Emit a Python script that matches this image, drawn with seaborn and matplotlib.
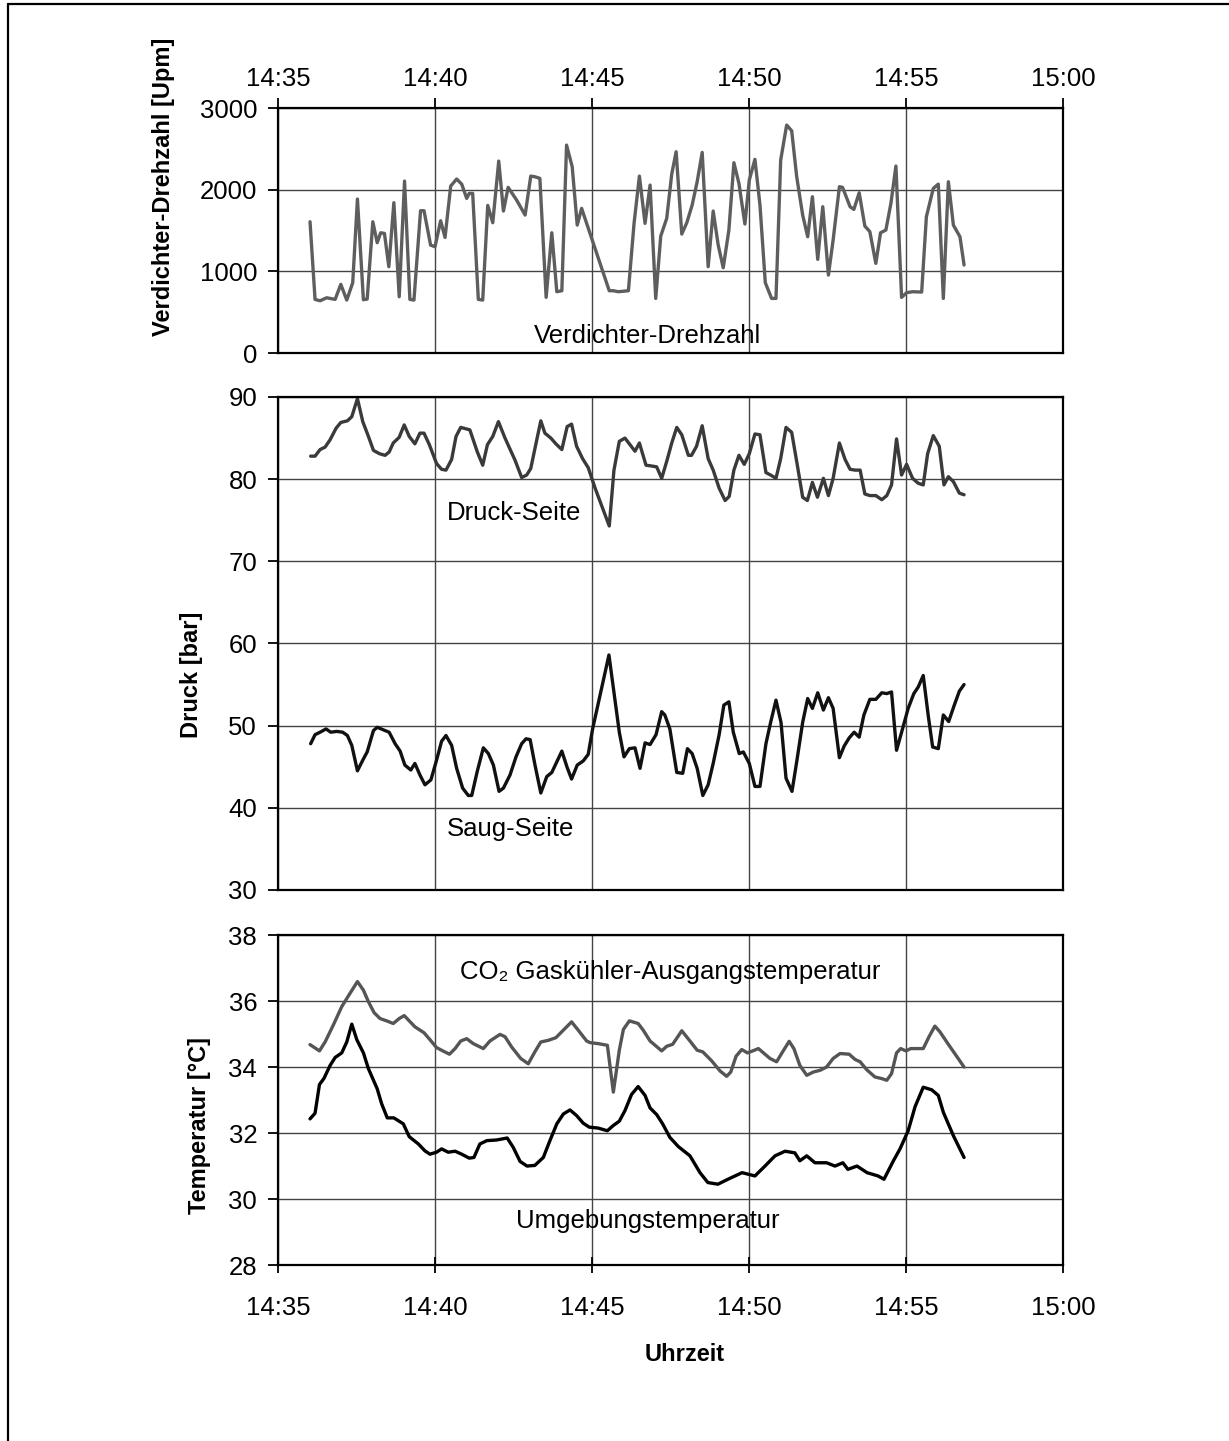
import numpy as np
import pandas as pd
import matplotlib
matplotlib.use('Agg')
import matplotlib.pyplot as plt
from matplotlib.ticker import FuncFormatter, MultipleLocator
from matplotlib.lines import Line2D
import seaborn as sns

sns.set_style('white')
plt.rcParams['font.family'] = ['Liberation Sans', 'DejaVu Sans']
plt.rcParams['text.color'] = 'black'
plt.rcParams['axes.labelcolor'] = 'black'
plt.rcParams['xtick.color'] = 'black'
plt.rcParams['ytick.color'] = 'black'

# all times in minutes after 14:35

# compressor speed [Upm]
t_rpm = [1.02, 1.18, 1.34, 1.55, 1.82, 2.00, 2.19, 2.38, 2.53, 2.72, 2.84, 3.02, 3.16, 3.27, 3.39,
         3.53, 3.69, 3.86, 4.03, 4.20, 4.33, 4.54, 4.65, 4.86, 5.00, 5.18, 5.32, 5.50, 5.69, 5.85,
         6.01, 6.09, 6.20, 6.38, 6.52, 6.68, 6.84, 7.03, 7.18, 7.33, 7.60, 7.87, 8.05, 8.18, 8.34,
         8.54, 8.72, 8.88, 9.04, 9.19, 9.37, 9.53, 9.67, 9.83, 10.55, 10.68, 10.84, 11.16, 11.34,
         11.51, 11.69, 11.85, 12.03, 12.19, 12.38, 12.54, 12.68, 12.86, 13.02, 13.19, 13.35, 13.51,
         13.70, 13.86, 14.02, 14.18, 14.36, 14.52, 14.68, 14.87, 15.01, 15.19, 15.35, 15.52, 15.72,
         15.86, 16.01, 16.20, 16.36, 16.52, 16.71, 16.87, 17.02, 17.19, 17.35, 17.53, 17.68, 17.88,
         17.98, 18.22, 18.34, 18.51, 18.69, 18.85, 19.04, 19.19, 19.36, 19.52, 19.68, 19.86, 20.02,
         20.21, 20.50, 20.65, 20.87, 21.03, 21.19, 21.35, 21.51, 21.72, 21.85]
rpm = [1608, 657, 640, 677, 657, 841, 649, 861, 1886, 653, 661, 1608, 1351, 1473, 1465,
       1057, 1841, 690, 2106, 657, 649, 1743, 1743, 1322, 1302, 1620, 1416, 2045, 2131, 2069,
       1894, 1955, 1955, 657, 649, 1808, 1596, 2351, 1739, 2029, 1873, 1690, 2167, 2159, 2139,
       682, 1473, 751, 763, 2547, 2282, 1567, 1772, 1588, 763, 763, 751, 763, 1588,
       2167, 1588, 2057, 669, 1433, 1649, 2192, 2465, 1457, 1596, 1812, 2098, 2457,
       1057, 1739, 1322, 1045, 1506, 2331, 2078, 1580, 2118, 2372, 1812, 861, 669,
       669, 2363, 2792, 2722, 2159, 1690, 1424, 1914, 1147, 1792, 955, 1384, 2037,
       2029, 1792, 1759, 1963, 1555, 1486, 1098, 1473, 1506, 1833, 2290, 682, 739,
       751, 747, 1669, 2016, 2069, 669, 2098, 1567, 1424, 1078]

# high pressure side [bar]
t_druck = [1.04, 1.18, 1.34, 1.50, 1.66, 1.85, 2.00, 2.21, 2.35, 2.53, 2.70, 2.88, 3.04, 3.23, 3.41,
           3.54, 3.67, 3.86, 4.02, 4.18, 4.36, 4.52, 4.65, 4.82, 5.05, 5.21, 5.35, 5.53, 5.67, 5.82,
           6.11, 6.35, 6.52, 6.67, 6.84, 7.02, 7.23, 7.55, 7.76, 7.92, 8.05, 8.22, 8.37, 8.50, 8.69,
           8.85, 9.04, 9.21, 9.35, 9.51, 9.70, 9.88, 10.10, 10.55, 10.70, 10.87, 11.05, 11.21, 11.37,
           11.51, 11.72, 11.90, 12.06, 12.22, 12.39, 12.54, 12.70, 12.86, 13.07, 13.17, 13.33, 13.51,
           13.70, 13.86, 14.05, 14.24, 14.37, 14.52, 14.68, 14.85, 15.01, 15.19, 15.35, 15.54, 15.69,
           15.86, 16.01, 16.18, 16.36, 16.54, 16.71, 16.86, 17.02, 17.18, 17.37, 17.53, 17.68, 17.88,
           18.06, 18.22, 18.38, 18.54, 18.69, 18.85, 19.04, 19.23, 19.39, 19.54, 19.70, 19.86, 20.02,
           20.21, 20.39, 20.55, 20.69, 20.87, 21.06, 21.21, 21.35, 21.51, 21.70, 21.85]
p_druck = [82.8, 82.8, 83.6, 83.9, 84.8, 86.2, 86.9, 87.1, 87.6, 89.8, 87.0, 85.2, 83.5, 83.1, 82.9,
           83.3, 84.4, 85.1, 86.6, 85.2, 84.3, 85.6, 85.6, 84.2, 81.9, 81.2, 81.1, 82.4, 85.2, 86.3,
           86.0, 83.3, 81.7, 84.2, 85.2, 87.0, 85.0, 82.3, 80.2, 80.5, 81.3, 84.4, 87.1, 85.6, 85.0,
           84.3, 83.6, 86.4, 86.7, 84.0, 82.5, 81.4, 78.9, 74.3, 81.1, 84.6, 85.0, 84.2, 83.4,
           84.4, 81.7, 81.6, 81.5, 80.1, 82.3, 84.4, 86.3, 85.4, 82.9, 82.9, 84.0, 86.5,
           82.5, 81.1, 78.9, 77.4, 77.9, 81.1, 82.9, 81.8, 83.1, 85.5, 85.4, 80.8, 80.5,
           80.1, 82.5, 86.3, 85.7, 81.7, 77.8, 77.4, 79.6, 77.8, 80.1, 78.0, 80.1, 84.4,
           82.4, 81.2, 81.1, 81.1, 78.2, 78.0, 78.0, 77.5, 78.0, 79.3, 84.9, 80.5, 81.8,
           80.1, 79.5, 79.3, 83.1, 85.3, 84.0, 79.3, 80.3, 79.7, 78.3, 78.1]

# suction side [bar]
t_saug = [1.04, 1.18, 1.34, 1.53, 1.68, 1.87, 2.06, 2.21, 2.35, 2.53, 2.70, 2.84, 3.04, 3.16, 3.41,
          3.54, 3.73, 3.89, 4.04, 4.23, 4.36, 4.52, 4.68, 4.87, 5.05, 5.21, 5.35, 5.53, 5.69, 5.88,
          6.06, 6.17, 6.35, 6.54, 6.70, 6.86, 7.04, 7.18, 7.39, 7.58, 7.76, 7.90, 8.03, 8.18, 8.37,
          8.56, 8.72, 8.88, 9.04, 9.21, 9.35, 9.53, 9.72, 9.88, 10.02, 10.54, 10.87, 11.02, 11.19,
          11.37, 11.53, 11.69, 11.85, 12.04, 12.22, 12.32, 12.48, 12.70, 12.89, 13.04, 13.19, 13.35,
          13.53, 13.70, 13.86, 14.05, 14.20, 14.36, 14.50, 14.69, 14.82, 15.01, 15.19, 15.35, 15.54,
          15.69, 15.86, 16.02, 16.18, 16.37, 16.52, 16.71, 16.87, 17.02, 17.19, 17.37, 17.53, 17.68,
          17.88, 18.03, 18.19, 18.35, 18.51, 18.66, 18.85, 19.04, 19.23, 19.39, 19.54, 19.70, 19.89,
          20.07, 20.25, 20.39, 20.55, 20.71, 20.85, 21.03, 21.19, 21.36, 21.53, 21.70, 21.85]
p_saug = [47.8, 48.9, 49.2, 49.6, 49.2, 49.3, 49.2, 48.8, 47.6, 44.5, 45.8, 46.8, 49.4, 49.8, 49.4,
          49.2, 47.8, 46.9, 45.2, 44.6, 45.4, 44.0, 42.8, 43.4, 45.8, 48.1, 48.8, 47.6, 44.8, 42.4,
          41.5, 41.5, 44.5, 47.3, 46.6, 45.2, 42.0, 42.4, 44.0, 46.2, 47.8, 48.4, 48.3, 45.3, 41.8,
          43.8, 44.3, 45.6, 46.9, 44.9, 43.5, 45.2, 45.7, 46.5, 49.6, 58.6, 49.2, 46.2, 47.2,
          47.3, 44.8, 47.9, 47.7, 48.9, 51.7, 51.3, 49.6, 44.3, 44.2, 47.2, 46.6, 44.8,
          41.5, 42.8, 45.4, 48.9, 52.5, 52.9, 49.2, 46.6, 46.8, 45.4, 42.6, 42.6, 47.8,
          50.4, 53.1, 50.4, 43.6, 42.0, 45.6, 50.4, 53.3, 52.1, 54.0, 51.9, 53.4, 52.1,
          46.1, 47.5, 48.5, 49.2, 48.6, 51.3, 53.2, 53.2, 54.0, 53.9, 54.1, 47.0, 49.6,
          52.1, 53.9, 54.7, 56.1, 51.2, 47.4, 47.2, 51.3, 50.5, 52.4, 54.2, 55.0]

# CO2 gas cooler outlet temperature [°C]
t_gk = [1.02, 1.32, 1.50, 1.76, 2.03, 2.29, 2.53, 2.72, 2.88, 3.06, 3.25, 3.46, 3.67, 3.86, 4.02,
        4.18, 4.36, 4.65, 4.84, 5.05, 5.25, 5.46, 5.64, 5.82, 6.01, 6.22, 6.54, 6.75, 7.07, 7.23,
        7.44, 7.73, 7.97, 8.18, 8.37, 8.61, 8.85, 9.09, 9.35, 9.56, 9.83, 9.94, 10.20, 10.49, 10.68,
        10.87, 11.00, 11.19, 11.47, 11.63, 11.85, 12.22, 12.38, 12.57, 12.86, 13.12, 13.35, 13.53,
        13.81, 14.08, 14.29, 14.42, 14.59, 14.77, 14.95, 15.12, 15.30, 15.46, 15.67, 15.88, 16.07,
        16.28, 16.43, 16.62, 16.84, 17.05, 17.26, 17.47, 17.68, 17.90, 18.19, 18.38, 18.54, 18.75,
        19.01, 19.23, 19.39, 19.54, 19.70, 19.83, 20.00, 20.15, 20.34, 20.55, 20.74, 20.92, 21.08,
        21.32, 21.59, 21.85]
temp_gk = [34.68, 34.49, 34.76, 35.27, 35.83, 36.23, 36.59, 36.33, 35.98, 35.65, 35.47, 35.40, 35.32, 35.47, 35.56,
           35.40, 35.22, 35.04, 34.83, 34.59, 34.49, 34.39, 34.56, 34.79, 34.86, 34.71, 34.56, 34.79, 34.99, 34.92,
           34.61, 34.26, 34.10, 34.46, 34.76, 34.81, 34.89, 35.12, 35.37, 35.12, 34.79, 34.74, 34.71, 34.66, 33.24,
           34.51, 35.14, 35.40, 35.32, 35.12, 34.79, 34.49, 34.63, 34.69, 35.10, 34.79, 34.51, 34.46,
           34.19, 33.88, 33.72, 33.85, 34.33, 34.53, 34.43, 34.49, 34.56, 34.43, 34.26, 34.16, 34.46,
           34.78, 34.56, 34.05, 33.75, 33.85, 33.90, 34.00, 34.26, 34.41, 34.39, 34.23, 34.16, 33.92,
           33.70, 33.65, 33.60, 33.80, 34.43, 34.56, 34.49, 34.56, 34.56, 34.56, 34.93, 35.24, 35.07,
           34.73, 34.36, 34.00]

# ambient temperature [°C]
t_umg = [1.02, 1.18, 1.32, 1.46, 1.66, 1.82, 2.03, 2.19, 2.35, 2.51, 2.72, 2.88, 3.16, 3.30, 3.48,
         3.69, 3.99, 4.18, 4.47, 4.68, 4.84, 5.05, 5.21, 5.42, 5.64, 5.85, 6.09, 6.24, 6.43, 6.65,
         6.96, 7.30, 7.49, 7.71, 7.93, 8.18, 8.45, 8.66, 8.88, 9.09, 9.30, 9.51, 9.72, 9.91, 10.20,
         10.49, 10.68, 10.87, 11.05, 11.26, 11.47, 11.69, 11.85, 12.06, 12.25, 12.48, 12.75, 13.12,
         13.44, 13.69, 14.01, 14.33, 14.78, 15.19, 15.51, 15.83, 16.15, 16.46, 16.62, 16.84, 17.10,
         17.47, 17.74, 17.99, 18.15, 18.44, 18.76, 19.11, 19.30, 19.60, 19.81, 20.07, 20.29, 20.55,
         20.82, 21.03, 21.19, 21.51, 21.85]
temp_umg = [32.43, 32.60, 33.47, 33.65, 34.05, 34.29, 34.43, 34.76, 35.30, 34.83, 34.43, 33.95, 33.34, 32.89, 32.46,
            32.46, 32.28, 31.89, 31.67, 31.46, 31.36, 31.42, 31.52, 31.42, 31.45, 31.36, 31.24, 31.26, 31.67, 31.77,
            31.79, 31.85, 31.57, 31.14, 31.00, 31.02, 31.26, 31.77, 32.28, 32.58, 32.70, 32.53, 32.30, 32.18, 32.15,
            32.07, 32.23, 32.36, 32.68, 33.17, 33.41, 33.14, 32.76, 32.56, 32.28, 31.87, 31.59, 31.31,
            30.80, 30.50, 30.45, 30.60, 30.80, 30.70, 31.00, 31.31, 31.45, 31.40, 31.16, 31.31, 31.10,
            31.10, 31.00, 31.10, 30.90, 31.00, 30.80, 30.70, 30.60, 31.16, 31.52, 32.07, 32.80, 33.39,
            33.31, 33.14, 32.63, 31.92, 31.26]

df_rpm = pd.DataFrame({'t': t_rpm, 'wert': rpm})
df_druck = pd.DataFrame({'t': t_druck, 'wert': p_druck})
df_saug = pd.DataFrame({'t': t_saug, 'wert': p_saug})
df_gk = pd.DataFrame({'t': t_gk, 'wert': temp_gk})
df_umg = pd.DataFrame({'t': t_umg, 'wert': temp_umg})

FS = 18.5


def uhrzeit(v, pos):
    total = 14 * 60 + 35 + v
    return f"{int(total // 60)}:{int(round(total % 60)):02d}"


fig = plt.figure(figsize=(12.29, 14.41), dpi=100)
left, width = 0.2262, 0.6387
ax1 = fig.add_axes([left, 0.7550, width, 0.1700])
ax2 = fig.add_axes([left, 0.3824, width, 0.3421])
ax3 = fig.add_axes([left, 0.1221, width, 0.2290])

sns.lineplot(data=df_rpm, x='t', y='wert', ax=ax1, color='#5e5e5e', lw=2.4, estimator=None, sort=False)
sns.lineplot(data=df_druck, x='t', y='wert', ax=ax2, color='#3a3a3a', lw=2.4, estimator=None, sort=False)
sns.lineplot(data=df_saug, x='t', y='wert', ax=ax2, color='#111111', lw=2.4, estimator=None, sort=False)
sns.lineplot(data=df_gk, x='t', y='wert', ax=ax3, color='#555555', lw=2.4, estimator=None, sort=False)
sns.lineplot(data=df_umg, x='t', y='wert', ax=ax3, color='#000000', lw=2.4, estimator=None, sort=False)

ax1.set_ylim(0, 3000)
ax1.yaxis.set_major_locator(MultipleLocator(1000))
ax2.set_ylim(30, 90)
ax2.yaxis.set_major_locator(MultipleLocator(10))
ax3.set_ylim(28, 38)
ax3.yaxis.set_major_locator(MultipleLocator(2))

for ax in (ax1, ax2, ax3):
    ax.set_xlim(0, 25)
    ax.xaxis.set_major_locator(MultipleLocator(5))
    ax.xaxis.set_major_formatter(FuncFormatter(uhrzeit))
    ax.grid(True, color='#444444', lw=1.0)
    ax.set_axisbelow(True)
    for s in ax.spines.values():
        s.set_color('black')
        s.set_linewidth(1.6)
    ax.tick_params(axis='y', direction='out', length=7, width=1.3, pad=8, labelsize=FS, left=True)
    ax.set_xlabel('')
    ax.set_ylabel('')

ax1.tick_params(axis='x', top=True, bottom=False, labeltop=True, labelbottom=False,
                direction='out', length=7, width=1.3, pad=5, labelsize=FS)
ax2.tick_params(axis='x', top=False, bottom=False, labeltop=False, labelbottom=False)
ax3.tick_params(axis='x', bottom=True, labelbottom=True, direction='inout', length=12,
                width=1.3, pad=16, labelsize=FS)

ax1.set_ylabel('Verdichter-Drehzahl [Upm]', fontsize=17, fontweight='bold')
ax1.yaxis.set_label_coords(-0.131, 0.678)
ax2.set_ylabel('Druck [bar]', fontsize=17, fontweight='bold')
ax2.yaxis.set_label_coords(-0.0955, 0.436)
ax3.set_ylabel('Temperatur [°C]', fontsize=17, fontweight='bold')
ax3.yaxis.set_label_coords(-0.0854, 0.424)
ax3.set_xlabel('Uhrzeit', fontsize=17, fontweight='bold')
ax3.xaxis.set_label_coords(0.518, -0.237)

ax1.text(11.78, 208, 'Verdichter-Drehzahl', fontsize=FS, ha='center', va='center')
ax2.text(7.52, 75.9, 'Druck-Seite', fontsize=FS, ha='center', va='center')
ax2.text(7.39, 37.4, 'Saug-Seite', fontsize=FS, ha='center', va='center')
ax3.text(12.48, 36.87, 'CO₂ Gaskühler-Ausgangstemperatur', fontsize=FS, ha='center', va='center')
ax3.text(11.78, 29.32, 'Umgebungstemperatur', fontsize=FS, ha='center', va='center')

# outer frame (only left and top edges visible)
fig.add_artist(Line2D([8 / 1229, 8 / 1229], [0, 1 - 4 / 1441], color='black', lw=1.6,
                      transform=fig.transFigure))
fig.add_artist(Line2D([8 / 1229, 1], [1 - 4 / 1441, 1 - 4 / 1441], color='black', lw=1.6,
                      transform=fig.transFigure))

fig.savefig('out.png', dpi=100, facecolor='white')
